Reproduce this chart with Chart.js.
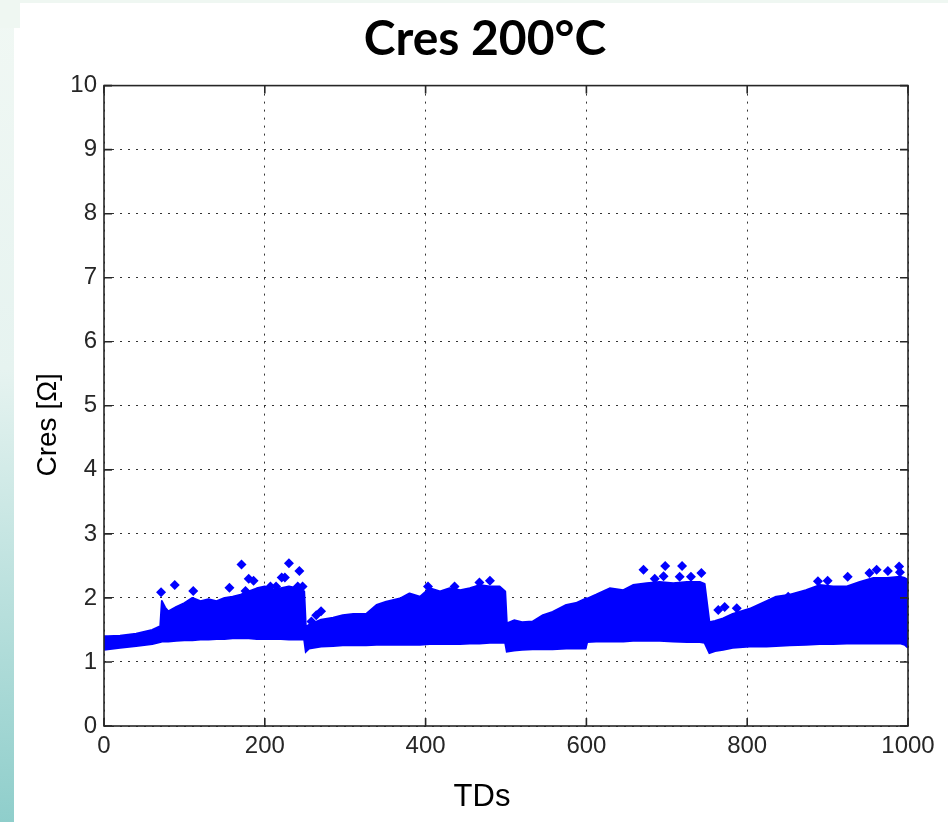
<!DOCTYPE html>
<html>
<head>
<meta charset="utf-8">
<title>Cres 200°C</title>
<script src="https://cdn.jsdelivr.net/npm/chart.js"></script>
<style>
  html, body { margin: 0; padding: 0; background: #fff; }
  #wrap { position: relative; width: 948px; height: 822px; overflow: hidden; }
  #edge { position: absolute; left: 0; top: 0; width: 14px; height: 822px;
          background: linear-gradient(#f1f8f4, #e6f3f0 45%, #8fcecb); }
  #topEdge { position: absolute; left: 0; top: 0; width: 948px; height: 3px; background: #eff7f2; }
  #corner { position: absolute; left: 0; top: 0; width: 20px; height: 28px; background: #eff7f2; }
  canvas { position: absolute; left: 0; top: 0; }
</style>
</head>
<body>
<div id="wrap">
  <div id="edge"></div>
  <div id="topEdge"></div>
  <div id="corner"></div>
  <canvas id="chartCanvas" width="948" height="822"></canvas>
</div>
<script>
const bandTds = [0, 5, 20, 40, 60, 70, 72, 76, 80, 90, 100, 110, 120, 130, 140, 150, 160, 170, 180, 190, 200, 210, 220, 230, 240, 249,
  251, 255, 270, 285, 297, 310, 326, 339, 351, 368, 380, 393, 405, 418, 430, 443, 455, 467, 480, 492, 499,
  501, 510, 520, 533, 546, 558, 575, 587, 599, 601, 612, 629, 646, 658, 675, 691, 708, 725, 741, 747,
  753, 760, 770, 782, 803, 824, 836, 853, 873, 890, 907, 924, 940, 957, 974, 990, 996, 1000];
const bandUpper = [1.40, 1.40, 1.41, 1.44, 1.50, 1.56, 1.95, 1.85, 1.79, 1.86, 1.92, 2.00, 1.95, 1.98, 1.95, 2.00, 2.02, 2.05, 2.10, 2.15, 2.18, 2.12, 2.15, 2.18, 2.15, 2.10,
  1.55, 1.58, 1.66, 1.69, 1.73, 1.75, 1.75, 1.89, 1.94, 1.99, 2.07, 2.02, 2.15, 2.10, 2.15, 2.12, 2.15, 2.20, 2.18, 2.18, 2.10,
  1.60, 1.65, 1.62, 1.63, 1.73, 1.78, 1.89, 1.92, 1.99, 1.99, 2.05, 2.15, 2.12, 2.20, 2.23, 2.25, 2.23, 2.25, 2.25, 2.22,
  1.62, 1.64, 1.68, 1.75, 1.83, 1.95, 2.02, 2.05, 2.12, 2.20, 2.18, 2.18, 2.25, 2.31, 2.31, 2.33, 2.31, 2.28];
const bandLower = [1.19, 1.20, 1.22, 1.25, 1.28, 1.31, 1.32, 1.32, 1.32, 1.33, 1.34, 1.34, 1.35, 1.35, 1.36, 1.36, 1.37, 1.37, 1.37, 1.36, 1.36, 1.36, 1.36, 1.35, 1.35, 1.35,
  1.16, 1.21, 1.24, 1.25, 1.26, 1.26, 1.26, 1.27, 1.27, 1.27, 1.27, 1.27, 1.28, 1.28, 1.28, 1.28, 1.29, 1.29, 1.30, 1.30, 1.30,
  1.16, 1.18, 1.19, 1.20, 1.20, 1.20, 1.21, 1.21, 1.21, 1.31, 1.32, 1.32, 1.32, 1.33, 1.33, 1.33, 1.32, 1.31, 1.31, 1.30,
  1.14, 1.17, 1.19, 1.22, 1.24, 1.24, 1.25, 1.26, 1.27, 1.28, 1.28, 1.29, 1.29, 1.29, 1.29, 1.29, 1.27, 1.22];

// single points standing out above the cloud
const outlierTds = [71, 88, 111, 156, 171, 176, 180, 186, 207, 214, 221, 225, 230, 241, 243, 247,
  258, 264, 270, 403, 436, 467, 480,
  671, 685, 696, 698, 716, 719, 730, 743,
  764, 772, 787, 851, 888, 900, 925, 952, 961, 975, 989, 990];
const outlierRes = [2.09, 2.20, 2.11, 2.16, 2.52, 2.11, 2.30, 2.27, 2.18, 2.18, 2.32, 2.32, 2.54, 2.18, 2.42, 2.18,
  1.63, 1.73, 1.79, 2.18, 2.18, 2.24, 2.27,
  2.44, 2.30, 2.34, 2.50, 2.33, 2.50, 2.33, 2.39,
  1.81, 1.86, 1.84, 2.02, 2.26, 2.27, 2.33, 2.39, 2.44, 2.42, 2.49, 2.40];

const xTicks = [0, 200, 400, 600, 800, 1000];
const yTicks = [0, 1, 2, 3, 4, 5, 6, 7, 8, 9, 10];

const BLUE = '#0000ff';
const AXIS = '#262626';
const SANS = 'Liberation Sans, Arial, sans-serif';
const tickFont = { family: SANS, size: 24 };

const toPoints = (xs, ys) => xs.map((x, i) => ({ x: x, y: ys[i] }));

// matlab style box with ticks pointing inwards
const matlabFrame = {
  id: 'matlabFrame',
  afterDatasetsDraw(chart) {
    const { ctx, chartArea: a, scales: { x, y } } = chart;
    ctx.save();
    ctx.strokeStyle = AXIS;
    ctx.lineWidth = 1.6;
    ctx.strokeRect(a.left, a.top, a.right - a.left, a.bottom - a.top);
    ctx.beginPath();
    xTicks.forEach(v => {
      const px = x.getPixelForValue(v);
      ctx.moveTo(px, a.bottom); ctx.lineTo(px, a.bottom - 8);
      ctx.moveTo(px, a.top); ctx.lineTo(px, a.top + 8);
    });
    yTicks.forEach(v => {
      const py = y.getPixelForValue(v);
      ctx.moveTo(a.left, py); ctx.lineTo(a.left + 8, py);
      ctx.moveTo(a.right, py); ctx.lineTo(a.right - 8, py);
    });
    ctx.stroke();
    ctx.restore();
  }
};

// axis labels sit a little off the axis centre in the original figure
const axisLabels = {
  id: 'axisLabels',
  afterDraw(chart) {
    const { ctx, chartArea: a } = chart;
    ctx.save();
    ctx.fillStyle = '#000';
    ctx.textAlign = 'center';
    ctx.textBaseline = 'middle';
    ctx.font = '31px ' + SANS;
    ctx.fillText('TDs', (a.left + a.right) / 2 - 24, 797);
    ctx.font = '28px ' + SANS;
    ctx.translate(48, (a.top + a.bottom) / 2 + 19);
    ctx.rotate(-Math.PI / 2);
    ctx.fillText('Cres [Ω]', 0, 0);
    ctx.restore();
  }
};

const ctx = document.getElementById('chartCanvas').getContext('2d');
new Chart(ctx, {
  type: 'scatter',
  data: {
    datasets: [
      { label: 'lower', data: toPoints(bandTds, bandLower), showLine: true, borderColor: BLUE, borderWidth: 2,
        pointRadius: 0, fill: false },
      { label: 'upper', data: toPoints(bandTds, bandUpper), showLine: true, borderColor: BLUE, borderWidth: 2,
        borderJoinStyle: 'round', pointRadius: 0, backgroundColor: BLUE, fill: '-1' },
      { label: 'outliers', data: toPoints(outlierTds, outlierRes), pointStyle: 'rectRot', pointRadius: 5,
        backgroundColor: BLUE, borderColor: BLUE, borderWidth: 0 }
    ]
  },
  options: {
    responsive: false,
    animation: false,
    layout: { padding: { left: 22, right: 0, top: 0, bottom: 0 } },
    plugins: {
      legend: { display: false },
      tooltip: { enabled: false },
      title: {
        display: true,
        text: 'Cres 200°C',
        color: '#000',
        font: { family: 'Lato', size: 48, weight: 'bold' },
        padding: { top: 11, bottom: 17 }
      }
    },
    scales: {
      x: {
        type: 'linear',
        min: 0,
        max: 1000,
        afterBuildTicks: s => { s.ticks = xTicks.map(v => ({ value: v })); },
        afterFit: s => { s.height = 96; s.paddingRight = 40; },
        grid: { color: '#333', lineWidth: 1, drawTicks: false },
        border: { display: false, dash: [2, 6] },
        ticks: { color: AXIS, font: tickFont, padding: 6, maxRotation: 0, callback: v => String(v) }
      },
      y: {
        type: 'linear',
        min: 0,
        max: 10,
        afterBuildTicks: s => { s.ticks = yTicks.map(v => ({ value: v })); },
        afterFit: s => { s.width = 82; },
        grid: { color: '#333', lineWidth: 1, drawTicks: false },
        border: { display: false, dash: [2, 6] },
        ticks: { color: AXIS, font: tickFont, padding: 7, callback: v => String(v) }
      }
    }
  },
  plugins: [matlabFrame, axisLabels]
});
</script>
</body>
</html>
